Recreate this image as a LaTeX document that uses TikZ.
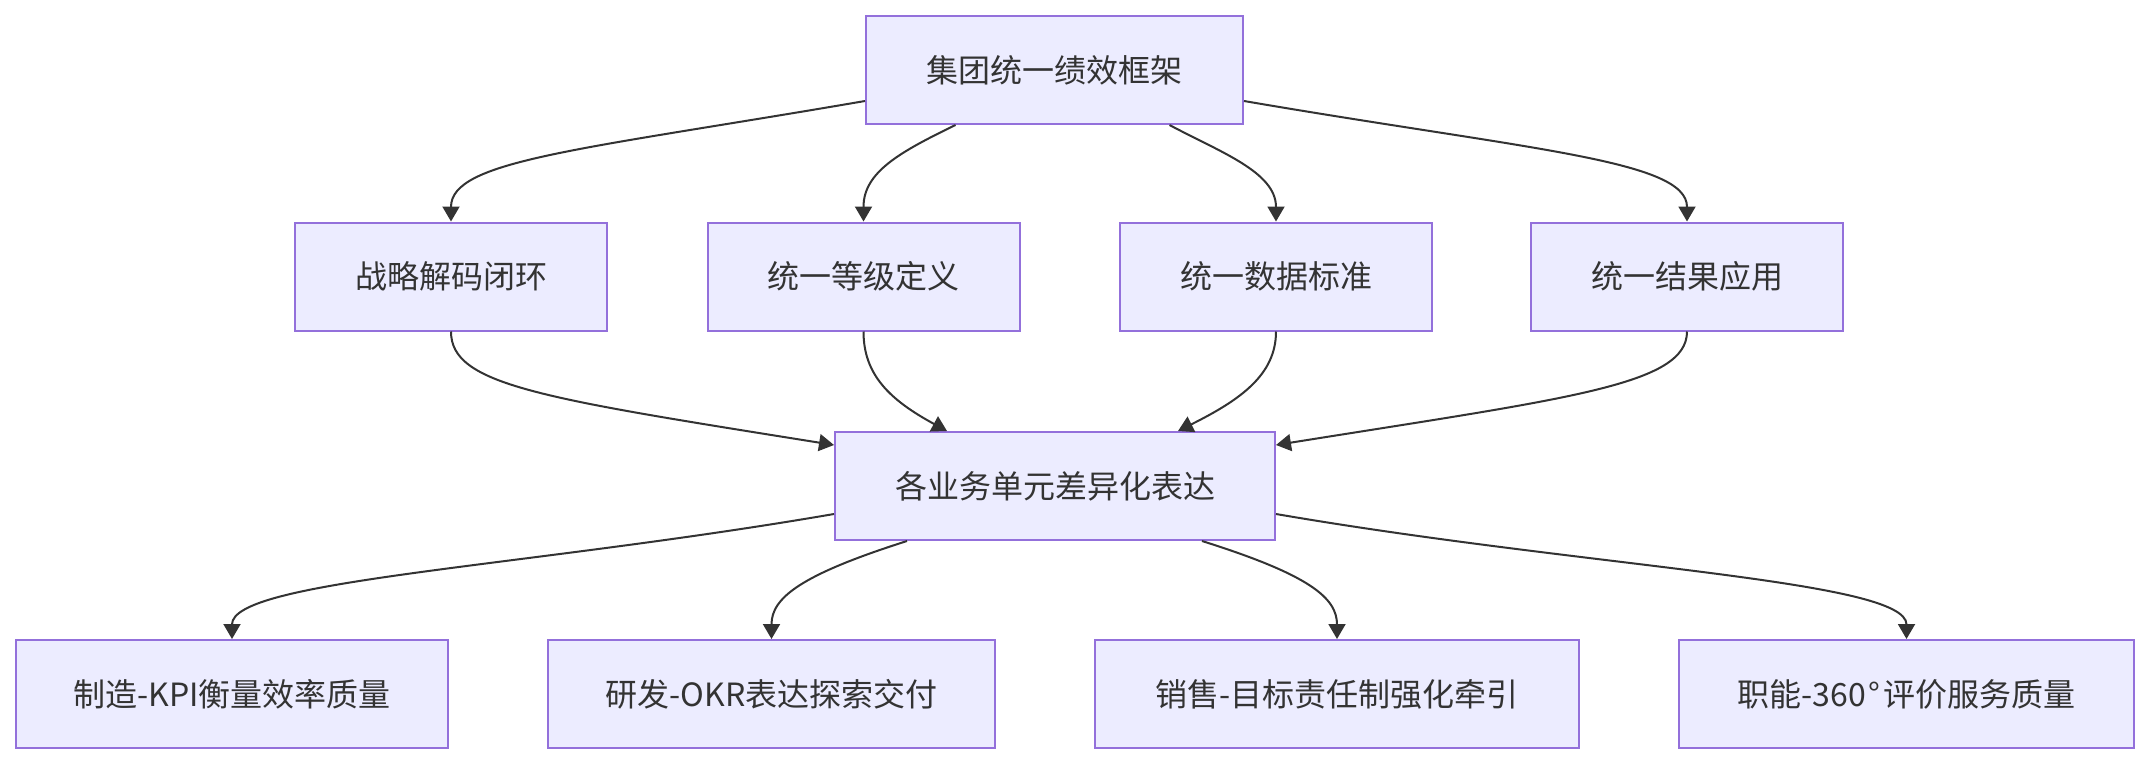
\documentclass[tikz,border=0pt]{standalone}
\usepackage{fontspec}
\newfontfamily\cjk{Noto Sans CJK SC}
\usetikzlibrary{arrows.meta}
\definecolor{nodefill}{HTML}{ECECFF}
\definecolor{nodeline}{HTML}{9370DB}
\definecolor{edgeline}{HTML}{333333}
\tikzset{
  box/.style={draw=nodeline, fill=nodefill, line width=2pt, inner sep=0pt,
    minimum height=108pt, text=edgeline, font=\cjk\fontsize{32}{38}\selectfont},
  link/.style={draw=edgeline, line width=2pt, -{Triangle[width=17pt,length=15pt]}}
}
\begin{document}
\begin{tikzpicture}[x=1pt,y=-1pt]
\useasboundingbox (0,0) rectangle (2149,764);
% top
\node[box, minimum width=377pt] (top) at (1054.5,70) {集团统一绩效框架};
% row 2
\node[box, minimum width=312pt] (a1) at (451,276.5) {战略解码闭环};
\node[box, minimum width=312pt] (a2) at (863.5,276.5) {统一等级定义};
\node[box, minimum width=312pt] (a3) at (1276,276.5) {统一数据标准};
\node[box, minimum width=312pt] (a4) at (1687,276.5) {统一结果应用};
% middle
\node[box, minimum width=440pt] (mid) at (1055,486) {各业务单元差异化表达};
% bottom
\node[box, minimum width=432pt] (b1) at (232,694) {制造-KPI衡量效率质量};
\node[box, minimum width=447pt] (b2) at (771.5,694) {研发-OKR表达探索交付};
\node[box, minimum width=484pt] (b3) at (1337,694) {销售-目标责任制强化牵引};
\node[box, minimum width=455pt] (b4) at (1906.5,694) {职能-360\hspace{3pt}°\hspace{3pt}评价服务质量};
% top -> row 2
\draw[link] ([yshift=-31pt]top.west) .. controls (580,150) and (451,160) .. (a1.north);
\draw[link] ([xshift=-99pt]top.south) .. controls (900,152) and (863.5,172) .. (a2.north);
\draw[link] ([xshift=115pt]top.south) .. controls (1220,152) and (1276,172) .. (a3.north);
\draw[link] ([yshift=-31pt]top.east) .. controls (1530,150) and (1687,160) .. (a4.north);
% row 2 -> middle
\draw[link] (a1.south) .. controls (451,385) and (540,398) .. ([yshift=41pt]mid.west);
\draw[link] (a2.south) .. controls (863.5,375) and (890,400) .. ([xshift=-108pt]mid.north);
\draw[link] (a3.south) .. controls (1276,375) and (1240,400) .. ([xshift=123pt]mid.north);
\draw[link] (a4.south) .. controls (1687,385) and (1570,398) .. ([yshift=41pt]mid.east);
% middle -> bottom
\draw[link] ([yshift=-28pt]mid.west) .. controls (520,568) and (232,580) .. (b1.north);
\draw[link] ([xshift=-148pt]mid.south) .. controls (800,575) and (771.5,598) .. (b2.north);
\draw[link] ([xshift=147pt]mid.south) .. controls (1310,575) and (1337,598) .. (b3.north);
\draw[link] ([yshift=-28pt]mid.east) .. controls (1590,568) and (1906.5,580) .. (b4.north);
\end{tikzpicture}
\end{document}
